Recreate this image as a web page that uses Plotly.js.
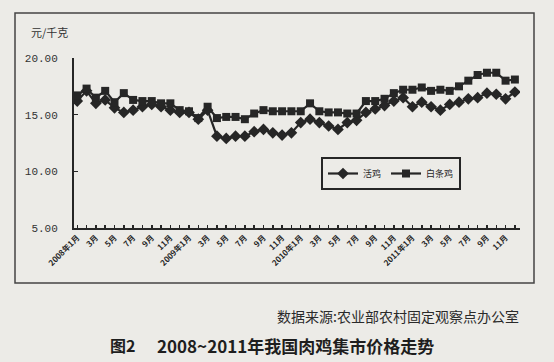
<!DOCTYPE html>
<html>
<head>
<meta charset="utf-8">
<script src="https://cdn.plot.ly/plotly-3.0.1.min.js"></script>
<style>
  html, body { margin: 0; padding: 0; background: #ecebe7; }
  #chart { width: 554px; height: 362px; }
</style>
</head>
<body>
<div id="chart"></div>
<script>
// Months: Jan 2008 .. Dec 2011 (48 months)
const monthLabels = [
  "2008年1月","","3月","","5月","","7月","","9月","","11月","",
  "2009年1月","","3月","","5月","","7月","","9月","","11月","",
  "2010年1月","","3月","","5月","","7月","","9月","","11月","",
  "2011年1月","","3月","","5月","","7月","","9月","","11月",""
];
const monthIndex = monthLabels.map((_, i) => i);

// 活鸡 (live chicken), yuan/kg
const liveChicken = [
  16.2, 17.1, 16.0, 16.3, 15.6, 15.2, 15.4, 15.7, 15.9, 15.7, 15.4, 15.2,
  15.2, 14.6, 15.4, 13.1, 12.9, 13.1, 13.1, 13.5, 13.7, 13.4, 13.2, 13.4,
  14.3, 14.6, 14.3, 14.0, 13.7, 14.3, 14.5, 15.2, 15.5, 15.8, 16.2, 16.5,
  15.7, 16.1, 15.7, 15.4, 15.9, 16.1, 16.4, 16.5, 16.9, 16.8, 16.4, 17.0
];
// 白条鸡 (dressed chicken), yuan/kg
const dressedChicken = [
  16.7, 17.3, 16.5, 17.1, 16.1, 16.9, 16.3, 16.2, 16.2, 16.0, 16.0, 15.4,
  15.3, 14.7, 15.7, 14.7, 14.8, 14.8, 14.6, 15.1, 15.4, 15.3, 15.3, 15.3,
  15.3, 16.0, 15.3, 15.2, 15.2, 15.1, 15.1, 16.2, 16.2, 16.4, 16.9, 17.2,
  17.2, 17.4, 17.1, 17.2, 17.1, 17.5, 18.0, 18.5, 18.7, 18.7, 18.0, 18.1
];

const yTicks = [5, 10, 15, 20];
const seriesNames = ["活鸡", "白条鸡"];

const ink = "#262626";
const cjk = "'Noto Sans CJK SC', 'Noto Sans', sans-serif";

// plot area in px: x 74..520, y 58..228
const L = 74, R = 520, T = 58, B = 228;
const px = x => (x - L) / (R - L);
const py = y => (B - y) / (B - T);

const traces = [
  {
    x: monthIndex, y: liveChicken, name: seriesNames[0],
    type: "scatter", mode: "lines+markers",
    line: { color: ink, width: 2.2 },
    marker: { symbol: "diamond", size: 9, color: ink }
  },
  {
    x: monthIndex, y: dressedChicken, name: seriesNames[1],
    type: "scatter", mode: "lines+markers",
    line: { color: ink, width: 2.2 },
    marker: { symbol: "square", size: 8, color: ink }
  }
];

const layout = {
  width: 554, height: 362,
  paper_bgcolor: "#ecebe7", plot_bgcolor: "rgba(0,0,0,0)",
  margin: { l: L, r: 554 - R, t: T, b: 362 - B, pad: 0 },
  showlegend: true,
  legend: {
    orientation: "h",
    x: px(321), y: py(157), xanchor: "left", yanchor: "top",
    bordercolor: ink, borderwidth: 2, bgcolor: "rgba(0,0,0,0)",
    font: { family: cjk, size: 9, color: ink },
    itemwidth: 30, tracegroupgap: 0
  },
  xaxis: {
    range: [-0.35, 47.55],
    tickmode: "array", tickvals: monthIndex, ticktext: monthLabels,
    tickangle: -45,
    tickfont: { family: cjk, size: 8, color: ink, weight: "bold" },
    ticks: "inside", ticklen: 3, tickcolor: ink, tickwidth: 1.5,
    showline: true, linecolor: ink, linewidth: 2,
    showgrid: false, zeroline: false, automargin: false, fixedrange: true
  },
  yaxis: {
    range: [5, 20],
    tickmode: "array", tickvals: yTicks, ticktext: yTicks.map(v => v.toFixed(2)),
    tickfont: { family: "'Liberation Mono', 'DejaVu Sans Mono', monospace", size: 11, color: "#333" },
    ticklabelstandoff: 12,
    ticks: "inside", ticklen: 4, tickcolor: ink, tickwidth: 1.5,
    showline: true, linecolor: ink, linewidth: 2,
    showgrid: false, zeroline: false, automargin: false, fixedrange: true
  },
  shapes: [
    {
      type: "rect", xref: "paper", yref: "paper",
      x0: px(15), x1: px(534), y0: py(283), y1: py(13),
      line: { color: "#444", width: 1.5 }, fillcolor: "rgba(0,0,0,0)", layer: "below"
    }
  ],
  annotations: [
    {
      text: "元/千克", xref: "paper", yref: "paper",
      x: px(49), y: py(32), xanchor: "center", yanchor: "middle",
      showarrow: false, font: { family: cjk, size: 11, color: "#333" }
    },
    {
      text: "数据来源:农业部农村固定观察点办公室", xref: "paper", yref: "paper",
      x: px(398), y: py(316), xanchor: "center", yanchor: "middle",
      showarrow: false, font: { family: cjk, size: 14, color: "#2a2a2a" }
    },
    {
      text: "图2", xref: "paper", yref: "paper",
      x: px(122), y: py(345), xanchor: "center", yanchor: "middle",
      showarrow: false, font: { family: cjk, size: 16, color: "#1e1e1e", weight: "bold" }
    },
    {
      text: "2008~2011年我国肉鸡集市价格走势", xref: "paper", yref: "paper",
      x: px(295), y: py(345), xanchor: "center", yanchor: "middle",
      showarrow: false, font: { family: cjk, size: 17, color: "#1e1e1e", weight: "bold" }
    }
  ]
};

Plotly.newPlot("chart", traces, layout, { displayModeBar: false, staticPlot: true });
</script>
</body>
</html>
